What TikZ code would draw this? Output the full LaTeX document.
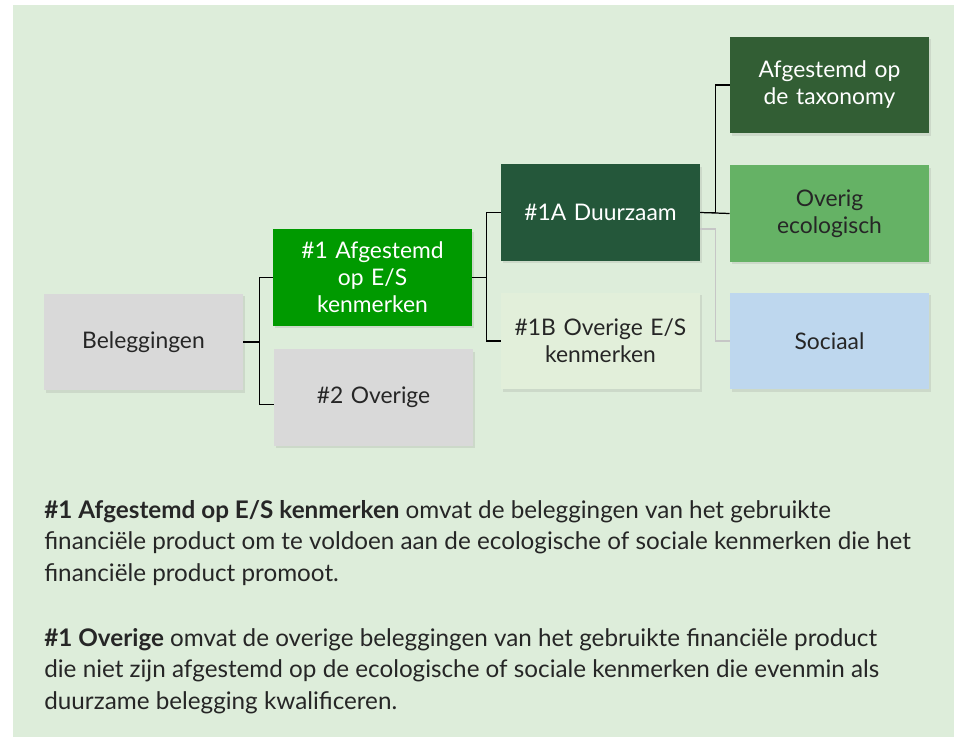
\documentclass[tikz,border=0pt]{standalone}
\usepackage{fontspec}
\setmainfont{Lato}
\usepackage{xcolor}
\usetikzlibrary{shadows}

\definecolor{panelgreen}{HTML}{DDEDDA}
\definecolor{boxgray}{HTML}{D9D9D9}
\definecolor{brightgreen}{HTML}{009A00}
\definecolor{darkgreen}{HTML}{24573A}
\definecolor{taxgreen}{HTML}{325E34}
\definecolor{ecogreen}{HTML}{65B265}
\definecolor{palegreen}{HTML}{E2EFDA}
\definecolor{palesky}{HTML}{BED7EE}
\definecolor{inkgray}{HTML}{262626}
\definecolor{linkgray}{HTML}{C6C6C6}

\tikzset{
  box/.style={minimum width=3.98cm,minimum height=1.94cm,text width=3.6cm,
    align=center,inner sep=0pt,font=\fontsize{13}{15.4}\selectfont,text=inkgray,
    drop shadow={shadow xshift=0.04cm,shadow yshift=-0.05cm,opacity=0.18}},
  whitebox/.style={box,text=white},
  link/.style={draw=black,line width=0.7pt},
  softlink/.style={draw=linkgray,line width=0.7pt},
  para/.style={anchor=north west,inner sep=0pt,align=left,text=inkgray,
    font=\fontsize{13.8}{18}\selectfont}
}

\begin{document}
\begin{tikzpicture}[x=0.02cm,y=-0.02cm]
  \useasboundingbox (0,0) rectangle (954,737);
  \fill[panelgreen] (13,5) rectangle (954,737);
  % Boxes, left to right
  \node[box,fill=boxgray] (beleg) at (143.5,342) {Beleggingen};
  \node[whitebox,fill=brightgreen] (afgES) at (372.5,277.5) {\#1 Afgestemd\\op E/S\\kenmerken};
  \node[box,fill=boxgray] (overig2) at (373.5,397.5) {\#2 Overige};
  \node[whitebox,fill=darkgreen] (duurz) at (600.5,212.5) {\#1A Duurzaam};
  \node[box,fill=palegreen] (overigES) at (600.5,341) {\#1B Overige E/S\\kenmerken};
  \node[whitebox,fill=taxgreen] (taxo) at (829.5,85) {Afgestemd op\\de taxonomy};
  \node[box,fill=ecogreen] (ecolog) at (829.5,213.5) {Overig\\ecologisch};
  \node[box,fill=palesky] (sociaal) at (829.5,341) {Sociaal};
  % Connectors
  \draw[link] (beleg.east) -- ++(16,0) |- (afgES.west);
  \draw[link] (beleg.east) ++(16,0) |- ([yshift=-0.14cm]overig2.west);
  \draw[link] (afgES.east) -- ++(14,0) |- (duurz.west);
  \draw[link] (afgES.east) ++(14,0) |- (overigES.west);
  \draw[softlink] ([yshift=-0.33cm]duurz.east) -- ++(15,0) |- (sociaal.west);
  \draw[link] (duurz.east) -- ++(15,0) |- (taxo.west);
  \draw[link] (duurz.east) -- (ecolog.west);
  % Explanatory text
  \node[para] (uitleg1) at (44,500) {\textbf{\#1 Afgestemd op E/S kenmerken} omvat de beleggingen van het gebruikte\\
    financiële product om te voldoen aan de ecologische of sociale kenmerken die het\\
    financiële product promoot.};
  \node[para] (uitleg2) at (44,628) {\textbf{\#1 Overige} omvat de overige beleggingen van het gebruikte financiële product\\
    die niet zijn afgestemd op de ecologische of sociale kenmerken die evenmin als\\
    duurzame belegging kwalificeren.};
\end{tikzpicture}
\end{document}
